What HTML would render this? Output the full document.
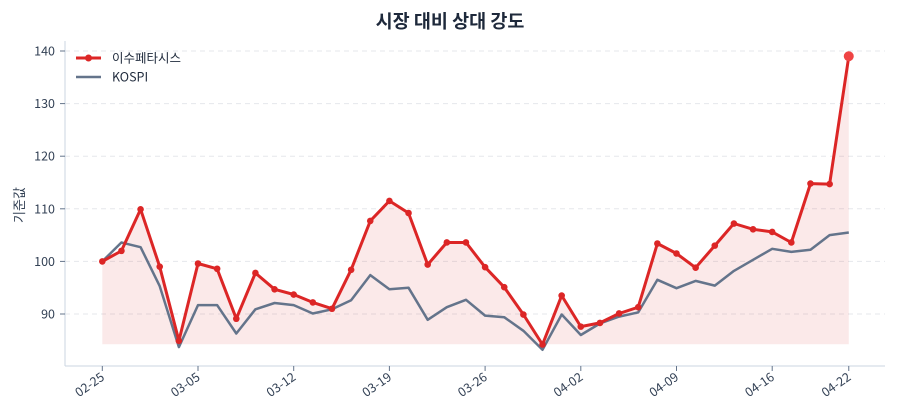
<!DOCTYPE html>
<html><head><meta charset="utf-8"><style>
html,body{margin:0;padding:0;background:#fff;width:900px;height:420px;overflow:hidden}
text{font-family:"Noto Sans CJK KR","Liberation Sans",sans-serif}
</style></head><body>
<svg id="s" width="900" height="420" viewBox="0 0 900 420" xmlns="http://www.w3.org/2000/svg">
<text x="450" y="28" text-anchor="middle" font-size="18.5" font-weight="bold" fill="#1e293b">시장 대비 상대 강도</text>
<g stroke="#e5e7eb" stroke-dasharray="5,4" stroke-width="1">
<line x1="65" x2="885" y1="51" y2="51"/><line x1="65" x2="885" y1="103.6" y2="103.6"/><line x1="65" x2="885" y1="156.2" y2="156.2"/><line x1="65" x2="885" y1="208.8" y2="208.8"/><line x1="65" x2="885" y1="261.4" y2="261.4"/><line x1="65" x2="885" y1="314" y2="314"/>
</g>
<g id="plot"></g>
<line x1="65" y1="41" x2="65" y2="366" stroke="#cbd5e1" stroke-width="1"/>
<line x1="65" y1="366" x2="885" y2="366" stroke="#cbd5e1" stroke-width="1"/>
<g font-size="12.5" fill="#334155" text-anchor="end">
<text x="55" y="55.5">140</text><text x="55" y="108">130</text><text x="55" y="160.7">120</text><text x="55" y="213.3">110</text><text x="55" y="265.9">100</text><text x="55" y="318.5">90</text>
</g>
<g stroke="#64748b" stroke-width="1">
<line x1="60" x2="65" y1="51" y2="51"/><line x1="60" x2="65" y1="103.6" y2="103.6"/><line x1="60" x2="65" y1="156.2" y2="156.2"/><line x1="60" x2="65" y1="208.8" y2="208.8"/><line x1="60" x2="65" y1="261.4" y2="261.4"/><line x1="60" x2="65" y1="314" y2="314"/>
</g>
<g id="xt" font-size="12.5" fill="#334155"></g>
<text transform="translate(24,205) rotate(-90)" text-anchor="middle" font-size="13" fill="#334155">기준값</text>
<line x1="76" y1="58" x2="101" y2="58" stroke="#dc2626" stroke-width="3"/>
<circle cx="88.5" cy="58" r="3.5" fill="#dc2626"/>
<text x="112" y="62.5" font-size="12.5" fill="#1e293b">이수페타시스</text>
<line x1="76" y1="77" x2="101" y2="77" stroke="#64748b" stroke-width="2.5"/>
<text x="112" y="81.5" font-size="12.5" fill="#1e293b">KOSPI</text>
</svg>
<script>
var r=[100,102,109.9,99,84.9,99.6,98.6,89.1,97.8,94.7,93.7,92.2,91,98.4,107.7,111.5,109.2,99.4,103.6,103.6,98.9,95.1,89.9,84.2,93.5,87.6,88.3,90.1,91.3,103.4,101.5,98.8,103,107.2,106.1,105.6,103.6,114.8,114.7,139];
var g=[100,103.6,102.7,95.3,83.7,91.7,91.7,86.3,90.9,92.1,91.7,90.1,90.9,92.6,97.4,94.7,95,88.9,91.3,92.7,89.7,89.4,86.8,83.2,89.9,86,88.2,89.5,90.3,96.5,94.9,96.3,95.4,98.2,100.3,102.4,101.8,102.2,105,105.5];
function X(i){return 102.3+i*19.14}function Y(v){return 261.4-(v-100)*5.26}
var ns="http://www.w3.org/2000/svg",P=document.getElementById('plot');
function el(t,a){var e=document.createElementNS(ns,t);for(var k in a)e.setAttribute(k,a[k]);P.appendChild(e);return e}
var rp=r.map(function(v,i){return X(i).toFixed(1)+','+Y(v).toFixed(1)}).join(' ');
var gp=g.map(function(v,i){return X(i).toFixed(1)+','+Y(v).toFixed(1)}).join(' ');
el('polygon',{points:rp+' '+X(39).toFixed(1)+',344.3 '+X(0).toFixed(1)+',344.3',fill:'rgba(220,38,38,0.1)'});
el('polyline',{points:gp,fill:'none',stroke:'#64748b','stroke-width':2.5,'stroke-linejoin':'round'});
el('polyline',{points:rp,fill:'none',stroke:'#dc2626','stroke-width':3,'stroke-linejoin':'round'});
r.forEach(function(v,i){el('circle',{cx:X(i),cy:Y(v),r:i==39?5:3.3,fill:i==39?'#ef4444':'#dc2626'})});
var L=['02-25','03-05','03-12','03-19','03-26','04-02','04-09','04-16','04-22'],I=[0,5,10,15,20,25,30,35,39],xt=document.getElementById('xt');
L.forEach(function(l,j){var x=X(I[j]);var t=document.createElementNS(ns,'line');t.setAttribute('x1',x);t.setAttribute('x2',x);t.setAttribute('y1',366);t.setAttribute('y2',371);t.setAttribute('stroke','#64748b');xt.appendChild(t);
var s=document.createElementNS(ns,'text');s.setAttribute('transform','translate('+(x+3)+',379) rotate(-35)');s.setAttribute('text-anchor','end');s.textContent=l;xt.appendChild(s);});
</script>
</body></html>
